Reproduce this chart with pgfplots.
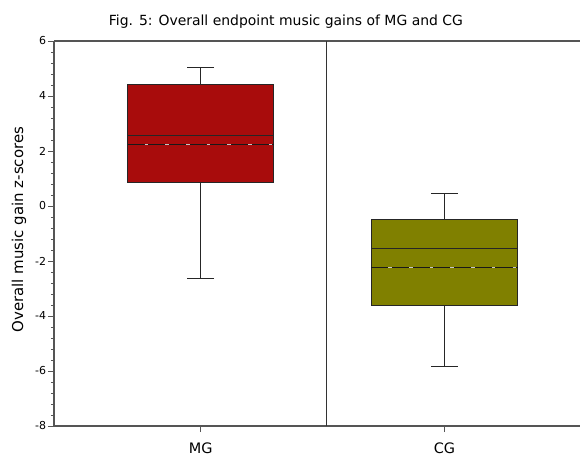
\documentclass[border=0pt]{standalone}
\usepackage{pgfplots}
\pgfplotsset{compat=1.18}
\usepgfplotslibrary{statistics}
\usetikzlibrary{calc}
\usepackage{fontspec}
\setmainfont{DejaVu Sans}
\definecolor{mgred}{RGB}{168,12,12}
\definecolor{cgolive}{RGB}{128,128,0}
\definecolor{axgray}{RGB}{85,85,85}
\begin{document}
\begin{tikzpicture}
\begin{axis}[
  scale only axis,
  width=526bp, height=385bp,
  xmin=0.398, xmax=2.556,
  ymin=-8, ymax=6,
  axis x line=box, axis y line=left,
  axis line style={-, draw=axgray, line width=1.3bp},
  tick align=outside,
  xtick pos=bottom, ytick pos=left,
  xtick={1,2}, xticklabels={MG,CG},
  ytick={-8,-6,-4,-2,0,2,4,6},
  minor y tick num=4,
  major tick length=6bp, minor tick length=3bp,
  every tick/.style={axgray, line width=0.8bp},
  /pgf/number format/assume math mode=true,
  tick label style={font=\fontsize{11}{13}\selectfont},
  yticklabel style={xshift=1.5bp},
  xticklabel style={font=\fontsize{14.5}{16}\selectfont, yshift=-7bp},
  title={Fig. 5: Overall endpoint music gains of MG and CG},
  every axis title/.style={at={(rel axis cs:0.441,1)}, anchor=center, yshift=19.5bp, font=\fontsize{14}{16}\selectfont},
  ylabel={Overall music gain z-scores},
  every axis y label/.style={at={(rel axis cs:0,0.51)}, xshift=-35bp, rotate=90, anchor=center, font=\fontsize{15}{17}\selectfont},
  clip=false,
  boxplot/draw direction=y,
]
\coordinate (sw) at (rel axis cs:0,0);
\coordinate (ne) at (rel axis cs:1,1);
% divider
\addplot[black!80, line width=0.8bp] coordinates {(1.517,-8) (1.517,6)};
% boxes
\addplot+[mark=none, draw=black!85, line width=0.9bp, fill=mgred, solid,
  boxplot prepared={draw position=1, lower whisker=-2.65, lower quartile=0.86,
    median=2.56, upper quartile=4.41, upper whisker=5.04,
    box extend=0.6, whisker extend=0.11}] coordinates {};
\addplot+[mark=none, draw=black!85, line width=0.9bp, fill=cgolive, solid,
  boxplot prepared={draw position=2, lower whisker=-5.85, lower quartile=-3.62,
    median=-1.55, upper quartile=-0.48, upper whisker=0.46,
    box extend=0.6, whisker extend=0.11}] coordinates {};
% means
\addplot[black!90, line width=1.2bp] coordinates {(0.7,2.23) (1.3,2.23)};
\addplot[gray!45, line width=1bp, dash pattern=on 3.5bp off 17.2bp, dash phase=-17bp] coordinates {(0.7,2.23) (1.3,2.23)};
\addplot[black!90, line width=1.2bp] coordinates {(1.7,-2.23) (2.3,-2.23)};
\addplot[gray!45, line width=1bp, dash pattern=on 3.5bp off 17.2bp, dash phase=-17bp] coordinates {(1.7,-2.23) (2.3,-2.23)};
\end{axis}
\pgfresetboundingbox
\path ($(sw)+(-54bp,-31bp)$) rectangle ($(ne)+(0bp,41bp)$);
\end{tikzpicture}
\end{document}
